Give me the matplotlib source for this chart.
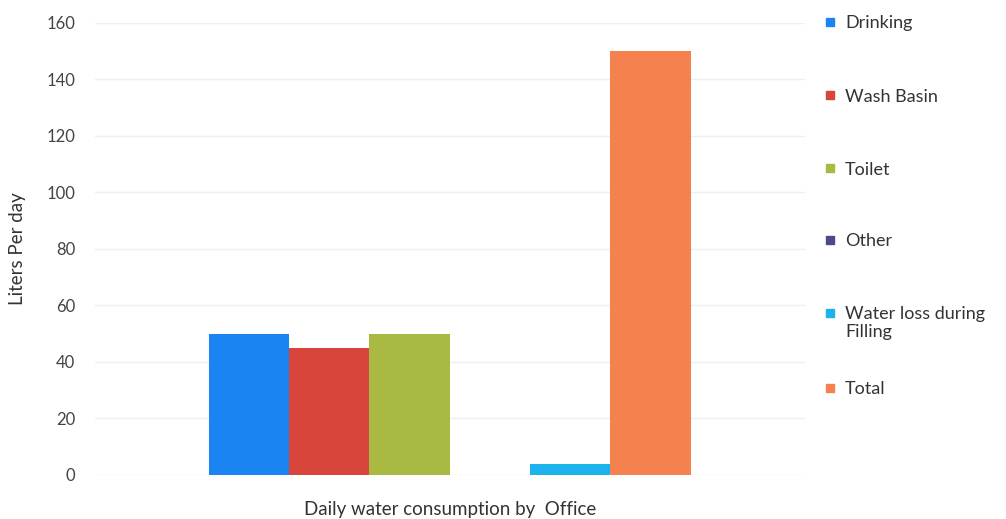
import numpy as np
import matplotlib.pyplot as plt
from matplotlib.patches import Rectangle

# Data
categories = ['Drinking', 'Wash Basin', 'Toilet', 'Other', 'Water loss during\nFilling', 'Total']
values = [50, 45, 50, 0, 4, 150]
colors = ['#1a84f2', '#d8453a', '#a9b942', '#4b4a8c', '#1cb2ec', '#f5814f']
y_ticks = [0, 20, 40, 60, 80, 100, 120, 140, 160]

plt.rcParams['font.family'] = ['Lato', 'DejaVu Sans']

W, H = 1006, 519
fig = plt.figure(figsize=(W / 100, H / 100), dpi=100)
ax = fig.add_axes([0.094, 0.085, 0.706, 0.871])

# Grouped bars around one category
n = len(categories)
width = 0.8 / n
x0 = 0
offsets = (np.arange(n) - (n - 1) / 2) * width
for i in range(n):
    ax.bar(x0 + offsets[i], values[i], width, color=colors[i], label=categories[i], zorder=3)

ax.set_xlim(-0.589, 0.589)
ax.set_ylim(0, 160)
ax.set_yticks(y_ticks)
ax.set_xticks([])
ax.tick_params(axis='y', length=0, colors='#444444', labelsize=12, pad=14)
for s in ax.spines.values():
    s.set_visible(False)
ax.yaxis.grid(True, color='#efefef', linewidth=1, zorder=0)

ax.set_ylabel('Liters Per day', fontsize=13.5, color='#333333')
ax.yaxis.set_label_coords(-0.097, 0.5)
ax.set_xlabel('Daily water consumption by  Office', fontsize=13.5, color='#333333', labelpad=19)

# Legend on the right, first line of each entry next to its square
legend_rows = [22, 95, 168, 240, 313, 388]  # pixel rows from top
for i in range(n):
    yc = 1 - legend_rows[i] / H
    fig.patches.append(Rectangle((826 / W, yc - 4 / H), 8 / W, 8 / H,
                                 transform=fig.transFigure, color=colors[i]))
    for j, line in enumerate(categories[i].split('\n')):
        fig.text(845 / W, yc - j * 17 / H, line, fontsize=13, color='#333333',
                 va='center_baseline', ha='left')

plt.savefig('out.png', dpi=100)
